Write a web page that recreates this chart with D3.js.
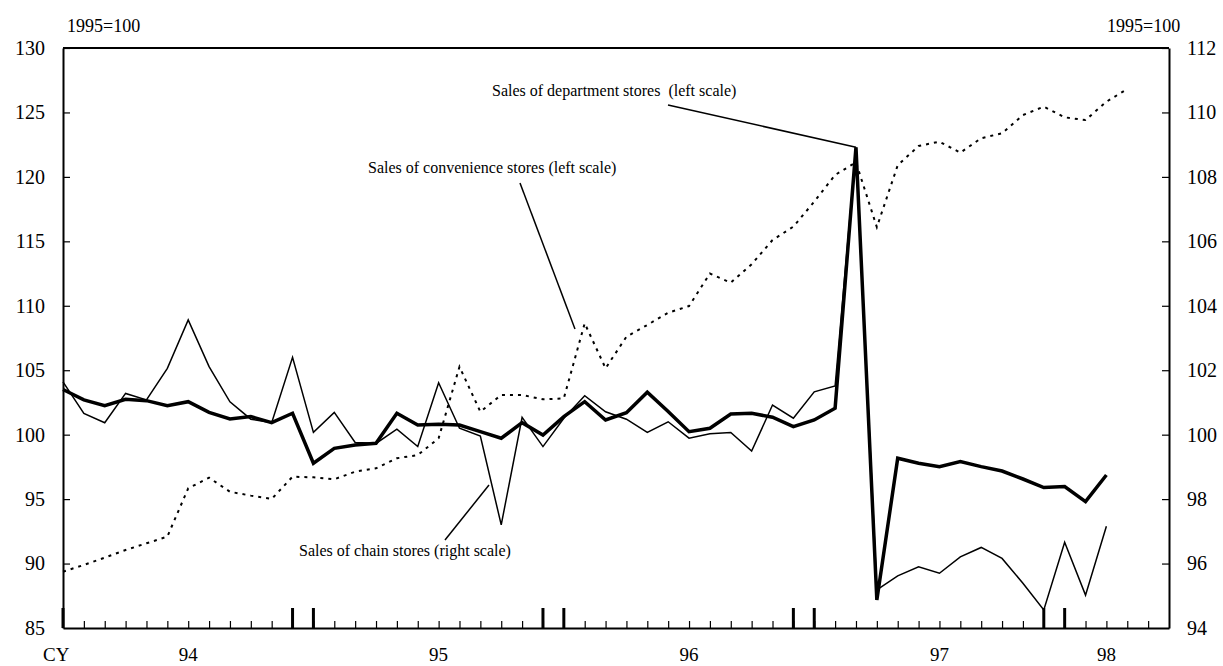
<!DOCTYPE html>
<html>
<head>
<meta charset="utf-8">
<script src="https://cdn.jsdelivr.net/npm/d3@7"></script>
<style>
  body { margin: 0; background: #fff; }
  svg { font-family: "Liberation Serif", "Times New Roman", serif; }
</style>
</head>
<body>
<div id="chart"></div>
<script>
// Monthly series, Jan 1994 = index 0
var deptStores = [103.5, 102.7, 102.25, 102.74, 102.64, 102.25, 102.56, 101.73, 101.22, 101.4,
    100.93, 101.66, 97.78, 98.94, 99.2, 99.33, 101.66, 100.75, 100.8, 100.75,
    100.23, 99.72, 100.93, 99.97, 101.4, 102.56, 101.14, 101.7, 103.3, 101.8,
    100.23, 100.5, 101.6, 101.66, 101.35, 100.62, 101.14, 102.05, 122.3, 87.17,
    98.17, 97.78, 97.52, 97.91, 97.52, 97.18, 96.56, 95.9, 95.97, 94.8, 96.87];

var chainStores = [101.64, 100.66, 100.37, 101.28, 101.08, 102.06, 103.56, 102.11, 101.02, 100.48,
    100.37, 102.4, 100.07, 100.69, 99.76, 99.73, 100.17, 99.63, 101.61, 100.2,
    99.96, 97.2, 100.54, 99.63, 100.51, 101.21, 100.71, 100.48, 100.07, 100.4,
    99.89, 100.03, 100.07, 99.49, 100.92, 100.51, 101.33, 101.51, 108.9, 95.18,
    95.62, 95.9, 95.7, 96.21, 96.5, 96.16, 95.39, 94.56, 96.66, 95.02, 97.16];

var convStores = [89.37, 89.89, 90.46, 91.05, 91.57, 92.09, 95.84, 96.66, 95.57, 95.27,
    95.01, 96.74, 96.69, 96.54, 97.13, 97.39, 98.17, 98.42, 99.72, 105.27,
    101.78, 103.08, 103.08, 102.74, 102.82, 108.64, 105.15, 107.6, 108.51, 109.46,
    109.98, 112.5, 111.79, 113.22, 115.1, 116.14, 118.08, 120.15, 121.13, 116.1,
    120.9, 122.4, 122.73, 121.88, 123.0, 123.38, 124.8, 125.45, 124.62, 124.41,
    125.83, 126.82];

var yearLabels = ["94", "95", "96", "97", "98"];
var yearLabelMonths = [6, 18, 30, 42, 50];
var yearMarkMonths = [0, 11, 12, 23, 24, 35, 36, 47, 48];
var leftTicks = [85, 90, 95, 100, 105, 110, 115, 120, 125, 130];
var rightTicks = [94, 96, 98, 100, 102, 104, 106, 108, 110, 112];

var W = 1223, H = 666;
var margin = {top: 48, right: 54, bottom: 38, left: 63};

var svg = d3.select("#chart").append("svg")
    .attr("width", W)
    .attr("height", H);

var x = d3.scaleLinear().domain([0, 53]).range([margin.left, W - margin.right]);
var yL = d3.scaleLinear().domain([85, 130]).range([H - margin.bottom, margin.top]);
var yR = d3.scaleLinear().domain([94, 112]).range([H - margin.bottom, margin.top]);

// frame top
svg.append("line")
    .attr("x1", x(0)).attr("x2", x(53))
    .attr("y1", margin.top).attr("y2", margin.top)
    .attr("stroke", "#000").attr("stroke-width", 2);

// left axis
var gL = svg.append("g")
    .attr("transform", "translate(" + margin.left + ",0)")
    .call(d3.axisLeft(yL).tickValues(leftTicks).tickSize(-7).tickPadding(18).tickSizeOuter(0));

// right axis
var gR = svg.append("g")
    .attr("transform", "translate(" + (W - margin.right) + ",0)")
    .call(d3.axisRight(yR).tickValues(rightTicks).tickSize(-7).tickPadding(18).tickSizeOuter(0));

// bottom axis, one tick per month
var gB = svg.append("g")
    .attr("transform", "translate(0," + (H - margin.bottom) + ")")
    .call(d3.axisBottom(x).tickValues(d3.range(1, 53)).tickSize(-7).tickFormat("").tickSizeOuter(0));

[gL, gR, gB].forEach(function(g) {
    g.select(".domain").attr("stroke", "#000").attr("stroke-width", 2);
    g.selectAll(".tick line").attr("stroke", "#000").attr("stroke-width", 1.2);
    g.selectAll(".tick text")
        .attr("font-family", "Liberation Serif, Times New Roman, serif")
        .attr("font-size", 20).attr("fill", "#000");
});
gL.select(".tick:first-of-type line").remove();
gR.select(".tick:first-of-type line").remove();

// tall year marks
svg.selectAll(".yearmark")
    .data(yearMarkMonths)
    .enter().append("line")
    .attr("class", "yearmark")
    .attr("x1", function(d) { return x(d); })
    .attr("x2", function(d) { return x(d); })
    .attr("y1", H - margin.bottom)
    .attr("y2", H - margin.bottom - 20)
    .attr("stroke", "#000")
    .attr("stroke-width", 3);

// year labels
svg.selectAll(".yearlabel")
    .data(yearLabels)
    .enter().append("text")
    .attr("x", function(d, i) { return x(yearLabelMonths[i]); })
    .attr("y", 661)
    .attr("text-anchor", "middle")
    .attr("font-size", 19)
    .text(function(d) { return d; });

svg.append("text").attr("x", 43).attr("y", 661).attr("font-size", 19).text("CY");
svg.append("text").attr("x", 67).attr("y", 32).attr("font-size", 18).text("1995=100");
svg.append("text").attr("x", 1107).attr("y", 32).attr("font-size", 18).text("1995=100");

// lines
var lineL = d3.line().x(function(d, i) { return x(i); }).y(function(d) { return yL(d); });
var lineR = d3.line().x(function(d, i) { return x(i); }).y(function(d) { return yR(d); });

svg.append("path")
    .datum(convStores)
    .attr("d", lineL)
    .attr("fill", "none")
    .attr("stroke", "#000")
    .attr("stroke-width", 2)
    .attr("stroke-dasharray", "3,5");

svg.append("path")
    .datum(chainStores)
    .attr("d", lineR)
    .attr("fill", "none")
    .attr("stroke", "#000")
    .attr("stroke-width", 1.5)
    .attr("stroke-linejoin", "miter");

svg.append("path")
    .datum(deptStores)
    .attr("d", lineL)
    .attr("fill", "none")
    .attr("stroke", "#000")
    .attr("stroke-width", 3.5)
    .attr("stroke-linejoin", "miter");

// annotations
function note(txt, tx, ty, x1, y1, x2, y2) {
    svg.append("text")
        .attr("x", tx).attr("y", ty)
        .attr("font-size", 16)
        .style("white-space", "pre")
        .text(txt);
    svg.append("line")
        .attr("x1", x1).attr("y1", y1)
        .attr("x2", x2).attr("y2", y2)
        .attr("stroke", "#000").attr("stroke-width", 1.5);
}
note("Sales of department stores  (left scale)", 492, 96, 668, 105, x(38), yL(deptStores[38]));
note("Sales of convenience stores (left scale)", 368, 173, 520, 183, 575, 329);
note("Sales of chain stores (right scale)", 299, 556, 445, 540, 489, 485);
</script>
</body>
</html>
